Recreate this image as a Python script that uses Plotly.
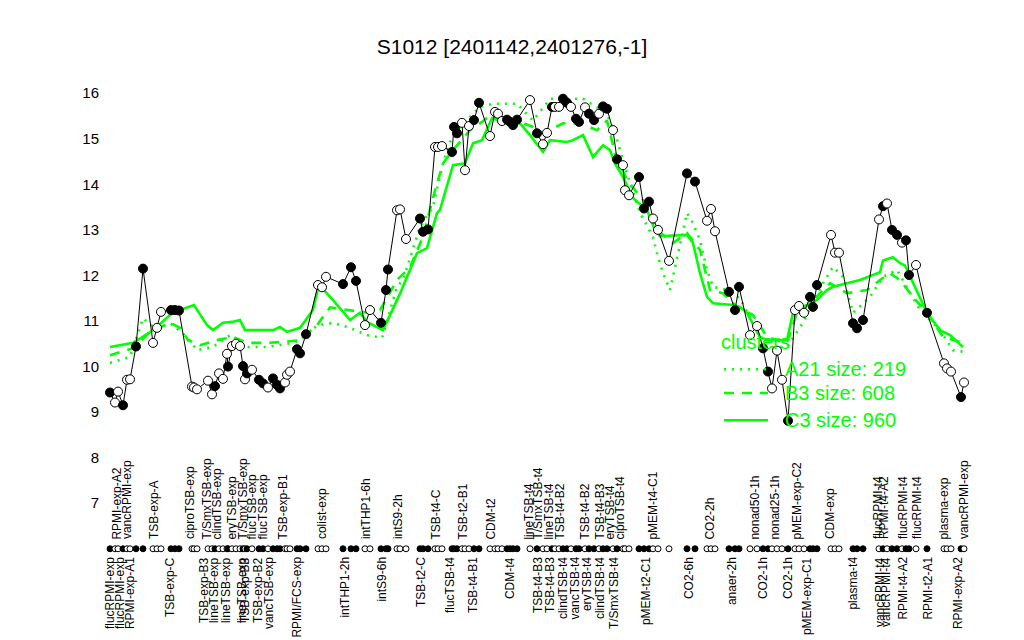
import plotly.graph_objects as go

# ---------------- data ----------------
# sample positions along the x axis (arbitrary position units)
pos = [110, 115, 118, 123, 127, 130, 136, 143, 153, 157, 161, 171, 175, 179,
       192, 194, 197, 208, 212, 215, 219, 223, 227, 228, 232, 236, 240, 243,
       245, 247, 252, 259, 263, 268, 273, 277, 280, 285, 287, 290, 297, 300,
       306, 318, 322, 326, 343, 351, 356, 365, 370, 381, 386, 388, 397, 400,
       406, 420, 423, 428, 435, 438, 442, 452, 454, 457, 462, 465, 469, 474,
       479, 490, 495, 498, 502, 507, 510, 513, 517, 530, 537, 543, 547, 552,
       555, 559, 563, 567, 571, 576, 579, 585, 589, 594, 599, 603, 607, 613,
       617, 623, 625, 629, 639, 644, 649, 653, 658, 669, 687, 695, 707, 711,
       715, 729, 735, 739, 750, 757, 763, 768, 772, 777, 782, 788, 795, 799,
       804, 810, 813, 817, 831, 835, 839, 853, 857, 863, 879, 883, 887, 892,
       897, 902, 906, 909, 916, 927, 944, 947, 951, 961, 964]
expr = [9.43, 9.21, 9.45, 9.15, 9.71, 9.72, 10.44, 12.15, 10.52, 10.85, 11.2, 11.24, 11.24, 11.23,
        9.56, 9.54, 9.5, 9.69, 9.39, 9.57, 9.85, 9.73, 10.28, 10.0, 10.45, 10.5, 10.45, 10.01,
        9.72, 9.85, 9.93, 9.71, 9.63, 9.54, 9.74, 9.6, 9.52, 9.65, 9.82, 9.89, 10.38, 10.29,
        10.71, 11.79, 11.74, 11.97, 11.81, 12.18, 11.88, 10.91, 11.24, 10.96, 11.68, 12.13, 13.43, 13.45,
        12.8, 13.25, 12.96, 13.01, 14.82, 14.82, 14.84, 14.71, 15.26, 15.12, 15.35, 14.31, 15.28, 15.41,
        15.79, 15.06, 15.59, 15.55, 15.39, 15.42, 15.37, 15.3, 15.42, 15.85, 15.12, 14.88, 15.13, 15.7,
        15.7, 15.7, 15.88, 15.79, 15.7, 15.44, 15.37, 15.69, 15.55, 15.41, 15.55, 15.71, 15.66, 15.19,
        14.55, 14.42, 13.87, 13.76, 14.16, 13.47, 13.62, 13.25, 13.0, 12.32, 14.24, 14.06, 13.2, 13.46,
        12.97, 11.64, 11.24, 11.75, 10.69, 10.89, 10.4, 9.89, 9.52, 10.35, 9.71, 8.81, 11.24, 11.33,
        11.18, 11.53, 11.31, 11.79, 12.89, 12.5, 12.5, 10.95, 10.84, 11.02, 13.23, 13.52, 13.58, 13.0,
        12.89, 12.72, 12.77, 12.01, 12.23, 11.18, 10.07, 9.96, 9.89, 9.33, 9.65]
filled = [1, 0, 0, 1, 0, 0, 1, 1, 0, 0, 0, 1, 1, 1,
          0, 0, 0, 0, 0, 1, 0, 0, 0, 1, 0, 0, 0, 1,
          0, 1, 0, 1, 1, 0, 1, 1, 1, 0, 0, 0, 1, 1,
          1, 0, 0, 0, 1, 1, 1, 0, 0, 1, 1, 1, 0, 0,
          0, 1, 1, 1, 0, 0, 0, 1, 1, 1, 0, 0, 0, 1,
          1, 0, 0, 0, 0, 1, 1, 1, 1, 0, 1, 0, 0, 1,
          0, 0, 1, 1, 0, 1, 1, 0, 1, 1, 0, 1, 1, 0,
          1, 0, 0, 0, 1, 1, 1, 0, 0, 0, 1, 1, 0, 0,
          0, 1, 1, 1, 0, 0, 1, 1, 0, 0, 0, 1, 0, 0,
          0, 1, 1, 1, 0, 0, 0, 1, 1, 1, 0, 1, 0, 1,
          1, 0, 1, 1, 0, 1, 0, 0, 0, 1, 0]

# cluster profiles
a21_pos = [110, 130, 143, 157, 170, 187, 197, 213, 230, 247, 267, 293, 300, 317, 333, 350, 367, 382,
           397, 403, 420, 433, 443, 450, 460, 480, 493, 517, 533, 550, 583, 607, 617, 627, 640, 653,
           657, 663, 670, 680, 687, 693, 700, 707, 713, 727, 740, 757, 767, 787, 803, 823, 833, 843,
           853, 870, 883, 897, 910, 920, 940, 953, 965]
a21_val = [10.08, 10.21, 11.06, 10.8, 10.96, 10.65, 10.36, 10.43, 10.69, 10.43, 10.43, 10.52, 10.58, 10.9,
           10.96, 10.85, 10.69, 10.63, 11.75, 11.9, 13.07, 13.51, 14.46, 14.93, 15.26, 15.7, 15.77, 15.77,
           15.4, 15.88, 15.88, 15.55, 14.97, 14.24, 13.38, 12.84, 12.49, 12.05, 11.68, 12.71, 13.37, 13.15,
           12.77, 12.12, 11.75, 11.68, 11.5, 10.76, 10.43, 10.43, 10.96, 11.83, 12.19, 11.97, 11.18, 11.53,
           11.97, 12.12, 11.61, 11.24, 10.8, 10.36, 10.32]
b3_pos = [110, 133, 150, 170, 180, 188, 200, 217, 233, 247, 267, 283, 300, 317, 330, 350, 367, 380,
          397, 410, 423, 435, 443, 453, 470, 482, 492, 500, 517, 533, 543, 563, 580, 597, 607, 615,
          627, 643, 657, 673, 687, 700, 710, 723, 737, 753, 767, 787, 797, 810, 830, 847, 867, 880,
          890, 900, 913, 927, 943, 963]
b3_val = [10.25, 10.4, 10.76, 10.96, 10.85, 10.58, 10.47, 10.58, 10.65, 10.52, 10.52, 10.54, 10.58, 10.91,
          11.3, 11.24, 11.18, 11.24, 11.9, 12.18, 12.85, 13.87, 14.46, 14.75, 15.19, 15.37, 15.55, 15.34,
          15.4, 15.26, 15.12, 15.34, 15.34, 15.19, 15.4, 14.68, 14.1, 13.65, 13.0, 12.71, 12.93, 12.56,
          11.68, 11.61, 11.31, 11.13, 10.65, 10.52, 11.18, 11.39, 11.83, 11.61, 11.68, 11.9, 12.05, 11.9,
          11.53, 11.18, 10.65, 10.52]
c3_pos = [110, 133, 139, 153, 170, 180, 194, 207, 213, 223, 232, 240, 245, 260, 273, 280, 287, 300,
          313, 319, 333, 350, 360, 367, 383, 400, 417, 427, 437, 440, 453, 465, 473, 482, 492, 500,
          507, 513, 520, 530, 543, 550, 567, 573, 583, 593, 603, 610, 615, 623, 633, 647, 655, 660,
          687, 693, 700, 707, 713, 733, 740, 747, 760, 767, 787, 793, 803, 817, 827, 833, 847, 860,
          880, 883, 893, 900, 905, 913, 927, 940, 950, 963]
c3_val = [10.43, 10.52, 10.6, 10.8, 11.13, 11.24, 11.35, 10.91, 10.8, 10.96, 10.98, 11.02, 10.8, 10.8,
          10.8, 10.87, 10.76, 10.85, 11.24, 11.8, 11.46, 11.02, 11.18, 10.98, 10.8, 11.6, 12.49, 12.6,
          13.37, 13.44, 14.42, 14.46, 14.9, 14.97, 15.45, 15.4, 15.47, 15.34, 15.34, 15.08, 14.71, 14.97,
          14.93, 14.97, 15.08, 14.6, 14.86, 14.75, 14.46, 14.16, 13.7, 13.43, 13.0, 12.86, 12.89, 12.71,
          12.05, 11.53, 11.39, 11.35, 11.31, 11.18, 10.65, 10.58, 10.58, 11.18, 11.31, 11.46, 11.68, 11.75,
          11.83, 11.9, 12.07, 12.33, 12.4, 12.27, 12.22, 11.83, 11.18, 10.8, 10.69, 10.43]

cluster_names = ["A21 size: 219", "B3 size: 608", "C3 size: 960"]

# condition labels (position, text)
top_label_pos = [117, 127, 154, 190, 207, 217, 232, 243, 252, 263, 283, 322, 366, 398, 436,
                 463, 491, 529, 538, 549, 560, 585, 600, 610, 620, 653, 710, 755, 775, 797,
                 830, 878, 884, 903, 917, 944, 964]
top_label_txt = ["RPMI-exp-A2", "vancRPMI-exp", "TSB-exp-A", "ciproTSB-exp", "T/SmxTSB-exp",
                 "clindTSB-exp", "eryTSB-exp", "T/SmxTSB-exp", "flucTSB-exp", "flucTSB-exp",
                 "TSB-exp-B1", "colist-exp", "intTHP1-6h", "intS9-2h", "TSB-t4-C", "TSB-t2-B1",
                 "CDM-t2", "lineTSB-t4", "T/SmxTSB-t4", "lineTSB-t4", "TSB-t4-B2", "TSB-t4-B2",
                 "TSB-t4-B3", "eryTSB-t4", "ciproTSB-t4", "pMEM-t4-C1", "CO2-2h", "nonad50-1h",
                 "nonad25-1h", "pMEM-exp-C2", "CDM-exp", "flucRPMI-t4", "RPMI-t4-A2",
                 "flucRPMI-t4", "flucRPMI-t4", "plasma-exp", "vancRPMI-exp"]
bot_label_pos = [110, 120, 130, 170, 204, 214, 226, 242, 245, 258, 269, 297, 345, 382, 421,
                 450, 473, 510, 538, 550, 563, 575, 587, 600, 614, 646, 689, 732, 763, 788,
                 807, 853, 880, 886, 903, 928, 958]
bot_label_txt = ["flucRPMI-exp", "flucRPMI-exp", "RPMI-exp-A1", "TSB-exp-C", "TSB-exp-B3",
                 "lineTSB-exp", "lineTSB-exp", "lineTSB-exp", "TSB-exp-B3", "TSB-exp-B2",
                 "vancTSB-exp", "RPMI/FCS-exp", "intTHP1-2h", "intS9-6h", "TSB-t2-C",
                 "flucTSB-t4", "TSB-t4-B1", "CDM-t4", "TSB-t4-B3", "TSB-t4-B3", "clindTSB-t4",
                 "vancTSB-t4", "eryTSB-t4", "clindTSB-t4", "T/SmxTSB-t4", "pMEM-t2-C1", "CO2-6h",
                 "anaer-2h", "CO2-1h", "CO2-1h", "pMEM-exp-C1", "plasma-t4", "vancRPMI-t4",
                 "vancRPMI-t4", "RPMI-t4-A2", "RPMI-t2-A1", "RPMI-exp-A2"]

y_ticks = [7, 8, 9, 10, 11, 12, 13, 14, 15, 16]

# ---------------- styling ----------------
GREEN = "#00ff00"
FONT = "Liberation Sans, Arial, Helvetica, sans-serif"
RUG_Y = 6.0
TOP_LABEL_Y = 6.18
BOT_LABEL_Y = 5.84

fig = go.Figure()

dashes = ["2px,6px", "10px,8px", "solid"]
for (xs, ys), name, dash in zip([(a21_pos, a21_val), (b3_pos, b3_val), (c3_pos, c3_val)],
                                cluster_names, dashes):
    fig.add_trace(go.Scatter(x=xs, y=ys, mode="lines", name=name, showlegend=False,
                             line=dict(color=GREEN, width=2.6, dash=dash)))

fill_colors = ["black" if f else "white" for f in filled]
fig.add_trace(go.Scatter(x=pos, y=expr, mode="lines+markers", showlegend=False,
                         line=dict(color="black", width=1),
                         marker=dict(size=9, color=fill_colors, line=dict(color="black", width=1))))
fig.add_trace(go.Scatter(x=pos, y=[RUG_Y] * len(pos), mode="markers", showlegend=False,
                         marker=dict(size=6, color=fill_colors, line=dict(color="black", width=1))))

annotations = []
for xp, t in zip(top_label_pos, top_label_txt):
    annotations.append(dict(x=xp, y=TOP_LABEL_Y, xref="x", yref="y", text=t, showarrow=False,
                            textangle=-90, xanchor="center", yanchor="bottom", borderpad=0,
                            font=dict(family=FONT, size=12, color="black")))
for xp, t in zip(bot_label_pos, bot_label_txt):
    annotations.append(dict(x=xp, y=BOT_LABEL_Y, xref="x", yref="y", text=t, showarrow=False,
                            textangle=-90, xanchor="center", yanchor="top", borderpad=0,
                            font=dict(family=FONT, size=12, color="black")))

# legend (drawn manually, like R's legend())
annotations.append(dict(x=719, y=10.54, xref="x", yref="y", text="clusters", showarrow=False,
                        xanchor="left", yanchor="middle", font=dict(family=FONT, size=20, color=GREEN)))
leg_y = [9.94, 9.42, 8.82]
shapes = []
for ly, name, dash in zip(leg_y, cluster_names, dashes):
    annotations.append(dict(x=783, y=ly, xref="x", yref="y", text=name, showarrow=False,
                            xanchor="left", yanchor="middle",
                            font=dict(family=FONT, size=20, color=GREEN)))
    shapes.append(dict(type="line", x0=724, x1=768, y0=ly, y1=ly, xref="x", yref="y",
                       line=dict(color=GREEN, width=2.6, dash=dash)))

fig.update_layout(
    width=1024, height=640,
    margin=dict(l=100, r=49, t=75, b=73),
    paper_bgcolor="white", plot_bgcolor="white",
    title=dict(text="S1012 [2401142,2401276,-1]", x=0.5, xref="container", xanchor="center",
               y=1 - 47 / 640, yref="container", yanchor="middle",
               font=dict(family=FONT, size=21, color="black")),
    xaxis=dict(range=[100, 975], showgrid=False, zeroline=False, showticklabels=False,
               showline=False, ticks=""),
    yaxis=dict(range=[5.6, 16.4], tickvals=y_ticks, ticktext=[str(v) for v in y_ticks],
               showgrid=False, zeroline=False, showline=False, ticks="", ticklabelstandoff=0,
               tickfont=dict(family=FONT, size=15, color="black")),
    annotations=annotations, shapes=shapes,
    showlegend=False,
)

fig.write_html("out.html", config={"displayModeBar": False},
               post_script="document.body.style.margin='0';")
